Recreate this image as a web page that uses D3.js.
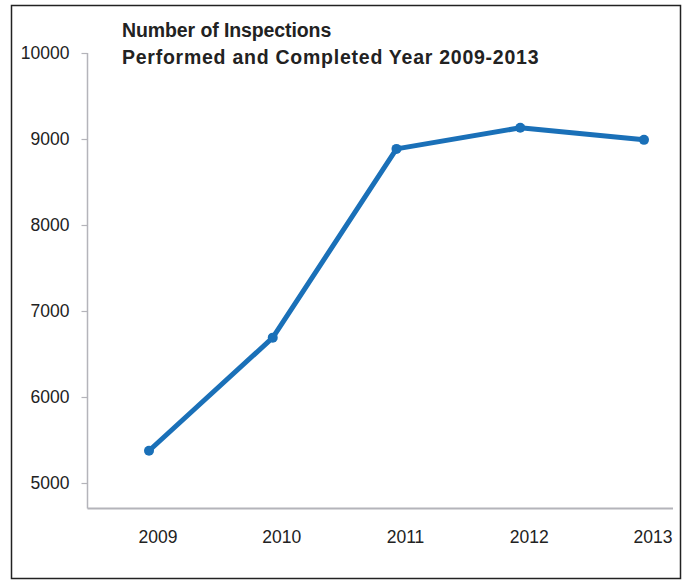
<!DOCTYPE html>
<html>
<head>
<meta charset="utf-8">
<script src="https://cdn.jsdelivr.net/npm/d3@7"></script>
<style>
  html, body { margin: 0; padding: 0; background: #fff; }
  svg { display: block; font-family: "Liberation Sans", Arial, Helvetica, sans-serif; }
</style>
</head>
<body>
<div id="chart"></div>
<script>
// Chart data
const years = ['2009', '2010', '2011', '2012', '2013'];
const inspections = [5375, 6690, 8885, 9130, 8990];
const yTicks = [5000, 6000, 7000, 8000, 9000, 10000];
const titleLines = ['Number of Inspections', 'Performed and Completed Year 2009-2013'];

const width = 684;
const height = 581;

const svg = d3.select('#chart')
  .append('svg')
    .attr('width', width)
    .attr('height', height);

// Outer frame
svg.append('rect')
  .attr('x', 11.5)
  .attr('y', 5.5)
  .attr('width', 669)
  .attr('height', 573)
  .attr('fill', 'none')
  .attr('stroke', '#222')
  .attr('stroke-width', 1.5);

// Scales
const x = d3.scalePoint()
  .domain(years)
  .range([149, 644]);

const y = d3.scaleLinear()
  .domain([5000, 10000])
  .range([483, 53]);

const axisLeftX = 87.5;
const axisBottomY = 508.5;
const axisColor = '#b4b4ba';

// Y axis line + ticks
svg.append('line')
  .attr('x1', axisLeftX).attr('x2', axisLeftX)
  .attr('y1', y(10000)).attr('y2', axisBottomY)
  .attr('stroke', axisColor)
  .attr('stroke-width', 1.5);

const yAxis = svg.append('g')
  .attr('transform', 'translate(' + axisLeftX + ',0)')
  .call(d3.axisLeft(y).tickValues(yTicks).tickSize(6).tickPadding(12).tickFormat(d3.format('d')));
yAxis.select('.domain').remove();
yAxis.selectAll('.tick line').attr('stroke', axisColor).attr('stroke-width', 1.2);
yAxis.selectAll('.tick text')
  .attr('fill', '#222')
  .style('font-size', '17.5px')
  .style('font-family', '"Liberation Sans", Arial, sans-serif');

// X axis line
svg.append('line')
  .attr('x1', axisLeftX).attr('x2', 673)
  .attr('y1', axisBottomY).attr('y2', axisBottomY)
  .attr('stroke', axisColor)
  .attr('stroke-width', 2);

// X labels
svg.append('g')
  .selectAll('text')
  .data(years)
  .join('text')
    .attr('x', (d) => x(d) + 9)
    .attr('y', 543)
    .attr('text-anchor', 'middle')
    .attr('fill', '#222')
    .style('font-size', '17.5px')
    .text((d) => d);

// Title
svg.append('g')
  .selectAll('text')
  .data(titleLines)
  .join('text')
    .attr('x', 122)
    .attr('y', (d, i) => 37 + i * 27)
    .attr('fill', '#222')
    .style('font-size', '19.5px')
    .style('font-weight', 'bold')
    .style('letter-spacing', (d, i) => i === 0 ? '-0.1px' : '0.75px')
    .text((d) => d);

// Line
const points = years.map((yr, i) => ({ x: yr, y: inspections[i] }));
const lineColor = '#1a70b8';

svg.append('path')
  .datum(points)
  .attr('fill', 'none')
  .attr('stroke', lineColor)
  .attr('stroke-width', 5)
  .attr('stroke-linejoin', 'round')
  .attr('d', d3.line()
    .x((d) => x(d.x))
    .y((d) => y(d.y))
  );

svg.append('g')
  .selectAll('circle')
  .data(points)
  .join('circle')
    .attr('cx', (d) => x(d.x))
    .attr('cy', (d) => y(d.y))
    .attr('r', 5)
    .attr('fill', lineColor);
</script>
</body>
</html>
